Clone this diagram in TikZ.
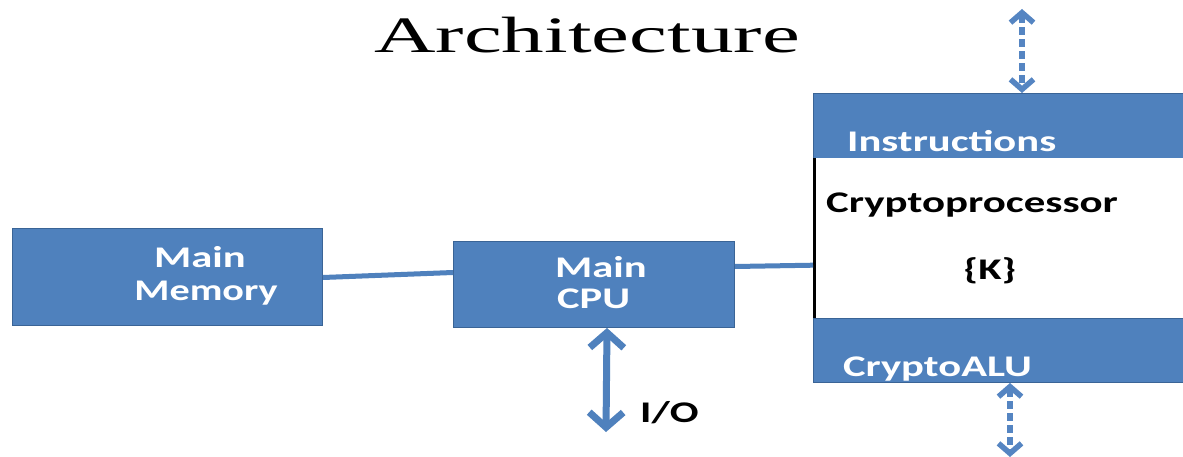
\documentclass[tikz,border=0pt]{standalone}
\usepackage{fontspec}
\setmainfont{Carlito}
\newfontfamily\titlefont{Liberation Serif}
\usetikzlibrary{arrows.meta}
\definecolor{boxblue}{HTML}{4F81BD}
\definecolor{edgeblue}{HTML}{3A6496}
\definecolor{dashblue}{HTML}{5585C2}
% wide lettering used throughout the slide
\newcommand{\widetext}[2][1.42]{\scalebox{#1}[1]{#2}}

\begin{document}
\begin{tikzpicture}[x=1pt,y=-1pt,
  block/.style={draw=edgeblue,line width=1pt,fill=boxblue,inner sep=0pt,anchor=north west},
  wlabel/.style={text=white,font=\bfseries\fontsize{30}{30}\selectfont,inner sep=0pt},
  blabel/.style={text=black,font=\bfseries\fontsize{30}{30}\selectfont,inner sep=0pt},
  link/.style={draw=boxblue,line width=5pt},
  bus/.style={draw=boxblue,line width=7pt,{Straight Barb[length=15pt,width=34pt,line width=7pt]}-{Straight Barb[length=15pt,width=34pt,line width=7pt]}},
  dbus/.style={draw=dashblue,line width=5.5pt,dash pattern=on 8pt off 4pt,{Straight Barb[length=10pt,width=23pt,line width=5.5pt]}-{Straight Barb[length=10pt,width=23pt,line width=5.5pt]}}
]
\clip (0,0) rectangle (1183,457);
\fill[white] (0,0) rectangle (1183,457);

% title
\node[inner sep=0pt,anchor=base,font=\titlefont\fontsize{51}{51}\selectfont] (title) at (587,53) {\widetext[1.67]{Architecture}};

% main memory and main CPU
\node[block,minimum width=310pt,minimum height=97pt] (mem) at (12,228) {};
\node[block,minimum width=281pt,minimum height=86pt] (cpu) at (453,241) {};
\node[wlabel,anchor=base] (memA) at (200,267) {\widetext{Main}};
\node[wlabel,anchor=base] (memB) at (206,300) {\widetext[1.34]{Memory}};
\node[wlabel,anchor=base west] (cpuA) at (555,277) {\widetext{Main}};
\node[wlabel,anchor=base west] (cpuB) at (557,308) {\widetext{CPU}};

% cryptoprocessor: instruction band, core, ALU band
\node[block,minimum width=380pt,minimum height=65pt] (instr) at (813,93) {};
\node[fill=white,inner sep=0pt,anchor=north west,minimum width=380pt,minimum height=160pt] (core) at (813,158) {};
\node[block,minimum width=380pt,minimum height=64pt] (alu) at (813,318) {};
\draw[line width=3pt] ([xshift=1.5pt]core.north west) -- ([xshift=1.5pt]core.south west);
\node[wlabel,anchor=base west] (instrT) at (847,152) {\widetext{Instructions}};
\node[blabel,anchor=base west] (coreT) at (826,213) {\widetext[1.43]{Cryptoprocessor}};
\node[blabel,anchor=base] (keyT) at (990,279) {\widetext{\{K\}}};
\node[wlabel,anchor=base west] (aluT) at (843,376) {\widetext{CryptoALU}};

% links
\draw[link] ([yshift=-0.5pt]mem.east) -- ([yshift=12pt]cpu.west);
\draw[link] ([yshift=18pt]cpu.east) -- ([yshift=-27pt]core.west);

% I/O bus
\coordinate (io) at (606,432);
\draw[bus] ([xshift=13pt]cpu.south) -- (io);
\node[blabel,anchor=base west] (ioT) at (640,422) {\widetext{I/O}};

% external key buses
\coordinate (topend) at (1022,9);
\coordinate (botend) at (1010,457);
\draw[dbus] (topend) -- (instr.north -| topend);
\draw[dbus] (alu.south -| botend) -- (botend);
\end{tikzpicture}
\end{document}
